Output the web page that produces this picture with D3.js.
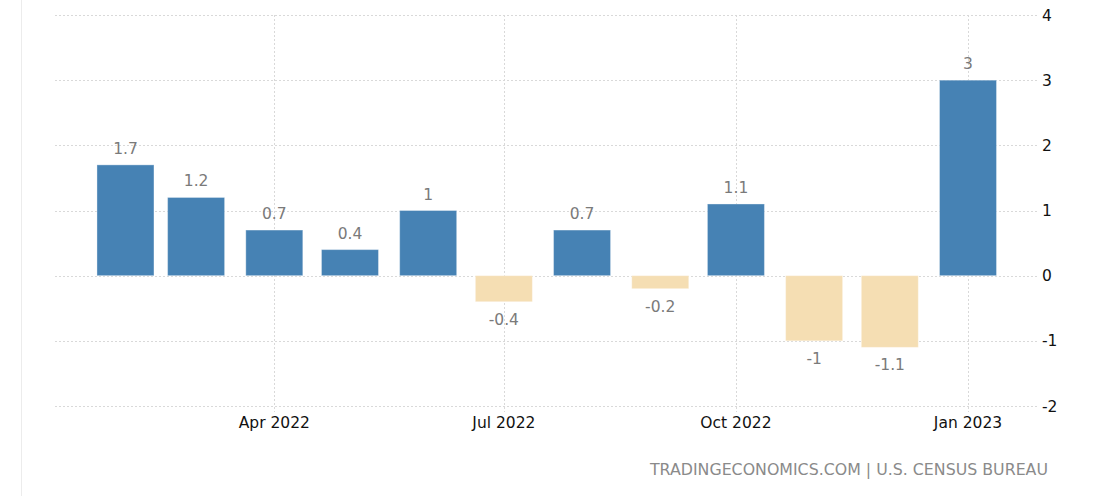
<!DOCTYPE html>
<html>
<head>
<meta charset="utf-8">
<script src="https://cdn.jsdelivr.net/npm/d3@7"></script>
<style>
  html, body { margin: 0; padding: 0; background: #fff; }
  svg { display: block; font-family: "DejaVu Sans", sans-serif; }
</style>
</head>
<body>
<svg id="chart" width="1107" height="496"></svg>
<script>
const months = ["2022-02","2022-03","2022-04","2022-05","2022-06","2022-07","2022-08","2022-09","2022-10","2022-11","2022-12","2023-01"];
const values = [1.7, 1.2, 0.7, 0.4, 1, -0.4, 0.7, -0.2, 1.1, -1, -1.1, 3];
const xTickDates = ["2022-04","2022-07","2022-10","2023-01"];
const yTicks = [-2, -1, 0, 1, 2, 3, 4];
const sourceText = "TRADINGECONOMICS.COM | U.S. CENSUS BUREAU";

const parse = d3.timeParse("%Y-%m");
const data = months.map((m, i) => ({ date: parse(m), value: values[i] }));

const svg = d3.select("#chart");
const W = 1107, H = 496;
const plotLeft = 55, plotRight = 1038;

const x = d3.scaleTime()
  .domain([parse("2022-04"), parse("2023-01")])
  .range([274.3, 968]);
const y = d3.scaleLinear().domain([-2, 4]).range([406, 15]);
const barW = 57;

// left border line
svg.append("line").attr("x1", 21.5).attr("x2", 21.5).attr("y1", 0).attr("y2", H)
  .attr("stroke", "#ececec").attr("stroke-width", 1);

// horizontal gridlines
svg.append("g").selectAll("line").data(yTicks).join("line")
  .attr("x1", plotLeft).attr("x2", plotRight)
  .attr("y1", d => Math.round(y(d)) + 0.5).attr("y2", d => Math.round(y(d)) + 0.5)
  .attr("stroke", "#d9d9d9").attr("stroke-dasharray", "2,2");

// vertical gridlines
const xTicks = xTickDates.map(parse);
svg.append("g").selectAll("line").data(xTicks).join("line")
  .attr("x1", d => Math.round(x(d)) + 0.5).attr("x2", d => Math.round(x(d)) + 0.5)
  .attr("y1", 15).attr("y2", 412)
  .attr("stroke", "#d9d9d9").attr("stroke-dasharray", "2,2");

// bars
svg.append("g").selectAll("rect").data(data).join("rect")
  .attr("x", d => x(d.date) - barW / 2)
  .attr("width", barW)
  .attr("y", d => y(Math.max(0, d.value)))
  .attr("height", d => Math.abs(y(d.value) - y(0)))
  .attr("fill", d => d.value >= 0 ? "#4682B4" : "#F5DEB3")
  .attr("stroke", "rgba(255,255,255,0.35)")
  .attr("stroke-width", 1);

// value labels
svg.append("g").selectAll("text").data(data).join("text")
  .attr("x", d => x(d.date))
  .attr("y", d => d.value >= 0 ? y(d.value) - 11 : y(d.value) + 23)
  .attr("text-anchor", "middle")
  .attr("font-size", 15.5)
  .attr("fill", "#7a7a7a")
  .text(d => String(d.value));

// x axis labels
svg.append("g").selectAll("text").data(xTicks).join("text")
  .attr("x", d => x(d))
  .attr("y", 428)
  .attr("text-anchor", "middle")
  .attr("font-size", 15.5)
  .attr("fill", "#111")
  .text(d => d3.timeFormat("%b %Y")(d));

// y axis labels
svg.append("g").selectAll("text").data(yTicks).join("text")
  .attr("x", 1042)
  .attr("y", d => y(d))
  .attr("dy", "0.36em")
  .attr("text-anchor", "start")
  .attr("font-size", 15.5)
  .attr("fill", "#111")
  .text(d => String(d));

// source
svg.append("text")
  .attr("x", 1048).attr("y", 475)
  .attr("text-anchor", "end")
  .attr("font-size", 15.8)
  .attr("fill", "#8a8a8a")
  .text(sourceText);
</script>
</body>
</html>
